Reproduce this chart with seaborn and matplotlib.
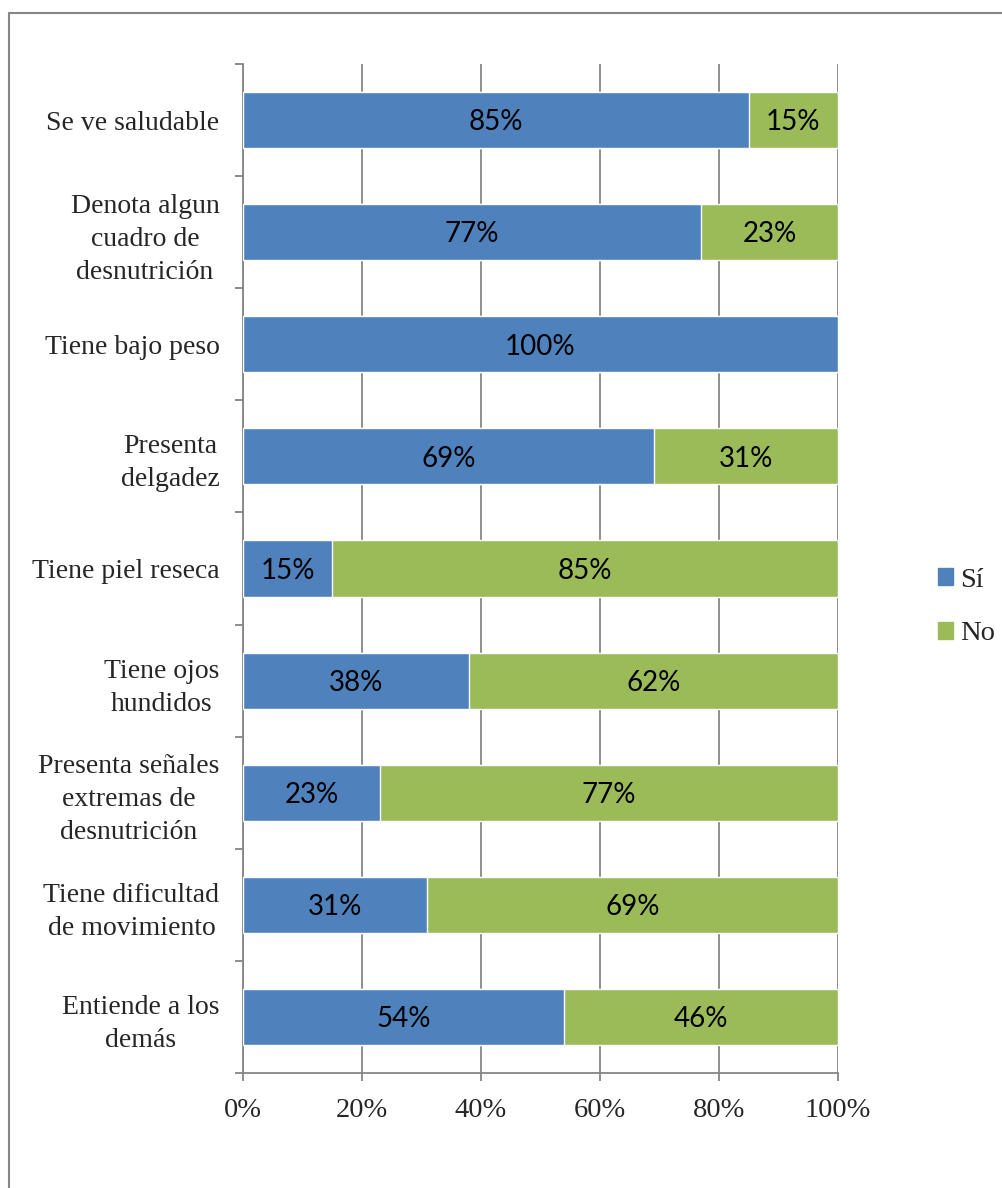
import numpy as np
import pandas as pd
import matplotlib
matplotlib.use("Agg")
import matplotlib.pyplot as plt
import seaborn as sns
from matplotlib.lines import Line2D
from matplotlib.ticker import FixedLocator, PercentFormatter

categorias = ["Se ve saludable",
              "Denota algun\ncuadro de\ndesnutrición",
              "Tiene bajo peso",
              "Presenta\ndelgadez",
              "Tiene piel reseca",
              "Tiene ojos\nhundidos",
              "Presenta señales\nextremas de\ndesnutrición",
              "Tiene dificultad\nde movimiento",
              "Entiende a los\ndemás"]
si = [85, 77, 100, 69, 15, 38, 23, 31, 54]
no = [15, 23, 0, 31, 85, 62, 77, 69, 46]

azul = "#4F81BD"
verde = "#9BBB59"
gris = "#868686"
serif = ["Liberation Serif", "DejaVu Serif"]
sans = ["Lato", "DejaVu Sans"]

sns.set_style("white")
plt.rcParams["font.family"] = serif

df = pd.DataFrame({"cat": categorias, "si": np.array(si) / 100,
                   "total": (np.array(si) + np.array(no)) / 100})

fig = plt.figure(figsize=(10.03, 11.88), dpi=100, facecolor="white")
ax = fig.add_axes([243 / 1003, 1 - 1073 / 1188, (838 - 243) / 1003, (1073 - 64) / 1188])

sns.barplot(data=df, x="total", y="cat", orient="h", color=verde, saturation=1,
            width=0.5, ax=ax, zorder=2)
sns.barplot(data=df, x="si", y="cat", orient="h", color=azul, saturation=1,
            width=0.5, ax=ax, zorder=3)

for i in range(len(categorias)):
    ax.text(si[i] / 200, i + 0.02, f"{si[i]}%", ha="center", va="center",
            fontsize=20, family=sans, color="black", zorder=4)
    if no[i] > 0:
        ax.text((si[i] + no[i] / 2) / 100, i + 0.02, f"{no[i]}%", ha="center", va="center",
                fontsize=20, family=sans, color="black", zorder=4)

ax.set_xlim(0, 1)
ax.set_ylim(len(categorias) - 0.5, -0.5)
ax.set_xticks(np.arange(0, 1.01, 0.2))
ax.xaxis.set_major_formatter(PercentFormatter(1.0, decimals=0))
ax.yaxis.set_minor_locator(FixedLocator(np.arange(-0.5, len(categorias), 1)))
ax.set_xlabel("")
ax.set_ylabel("")

ax.xaxis.grid(True, color=gris, linewidth=1.3, zorder=0)
ax.set_axisbelow(True)
for s in ["top", "right"]:
    ax.spines[s].set_visible(False)
for s in ["left", "bottom"]:
    ax.spines[s].set_color(gris)
    ax.spines[s].set_linewidth(1.3)

ax.tick_params(axis="y", which="major", length=0, pad=17, labelsize=20)
ax.tick_params(axis="y", which="minor", length=6, width=1.3, color=gris, direction="out", left=True)
ax.tick_params(axis="x", which="major", length=6, width=1.3, color=gris, direction="out",
               pad=12, labelsize=20.5, bottom=True)
for lbl in ax.get_yticklabels():
    lbl.set_multialignment("center")
    lbl.set_linespacing(1.42)

handles = [plt.Rectangle((0, 0), 1, 1, color=azul), plt.Rectangle((0, 0), 1, 1, color=verde)]
fig.legend(handles, ["Sí", "No"], loc="center left", bbox_to_anchor=(912 / 1003, 1 - 607 / 1188),
           frameon=False, fontsize=20.5, handlelength=0.55, handleheight=0.55,
           handletextpad=0.25, labelspacing=1.0)

fig.add_artist(Line2D([9 / 1003, 9 / 1003], [0, 1 - 13 / 1188], transform=fig.transFigure,
                      color=gris, linewidth=1.5))
fig.add_artist(Line2D([9 / 1003, 1], [1 - 13 / 1188, 1 - 13 / 1188], transform=fig.transFigure,
                      color=gris, linewidth=1.5))

plt.savefig("out.png", dpi=100, facecolor="white")
